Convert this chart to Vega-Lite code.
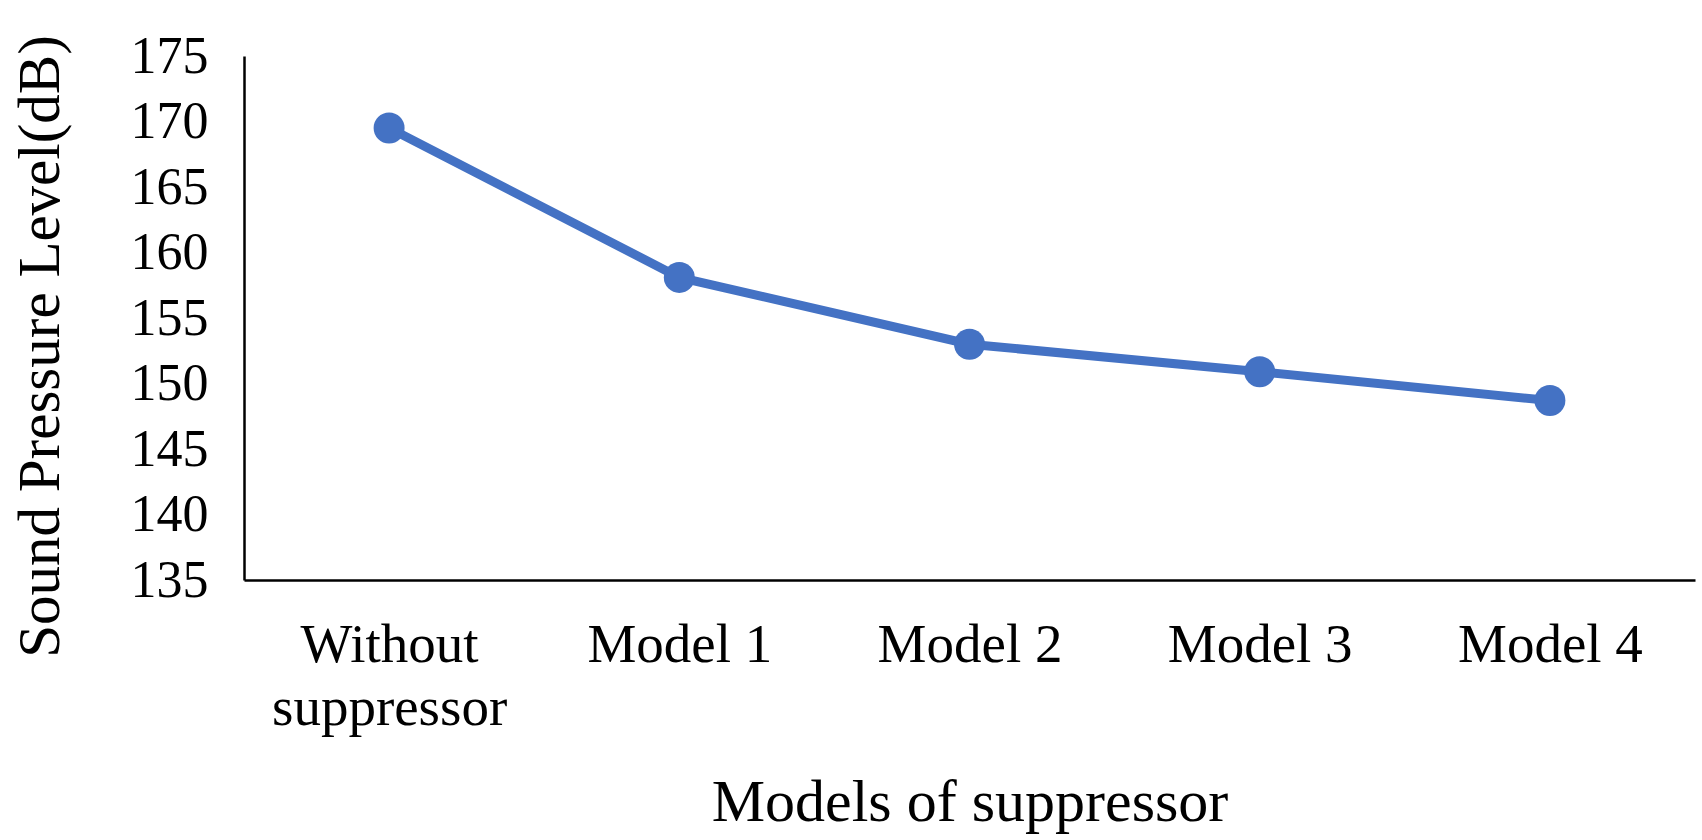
{
  "$schema": "https://vega.github.io/schema/vega-lite/v6.json",
  "autosize": {"type": "none"},
  "padding": {"left": 244, "top": 56, "right": 7, "bottom": 260},
  "width": 1451,
  "height": 524,
  "background": "white",
  "config": {
    "view": {"stroke": null},
    "font": "Liberation Serif",
    "axis": {
      "grid": false,
      "ticks": false,
      "domainColor": "#000000",
      "domainWidth": 2.5,
      "labelColor": "#000000",
      "titleColor": "#000000",
      "labelFont": "Liberation Serif",
      "titleFont": "Liberation Serif",
      "titleFontWeight": "normal",
      "labelLimit": 0
    }
  },
  "data": {
    "values": [
      {"model": "Without suppressor", "spl": 169.5},
      {"model": "Model 1", "spl": 158.1},
      {"model": "Model 2", "spl": 153.0},
      {"model": "Model 3", "spl": 150.9},
      {"model": "Model 4", "spl": 148.7}
    ]
  },
  "encoding": {
    "x": {
      "field": "model",
      "type": "nominal",
      "sort": null,
      "scale": {"type": "point", "padding": 0.5},
      "axis": {
        "title": "Models of suppressor",
        "titleFontSize": 60,
        "titlePadding": 38,
        "labelFontSize": 55,
        "labelAngle": 0,
        "labelPadding": 38,
        "labelLineHeight": 63,
        "labelLimit": 0,
        "labelExpr": "datum.label == 'Without suppressor' ? ['Without', 'suppressor'] : datum.label"
      }
    },
    "y": {
      "field": "spl",
      "type": "quantitative",
      "scale": {"domain": [135, 175], "nice": false, "zero": false},
      "axis": {
        "title": "Sound Pressure Level(dB)",
        "titleFontSize": 59,
        "titlePadding": 60,
        "titleY": 290,
        "labelFontSize": 52,
        "labelPadding": 36,
        "values": [135, 140, 145, 150, 155, 160, 165, 170, 175]
      }
    }
  },
  "layer": [
    {"mark": {"type": "line", "color": "#4472C4", "strokeWidth": 9}},
    {"mark": {"type": "point", "filled": true, "color": "#4472C4", "size": 960, "opacity": 1}}
  ]
}
